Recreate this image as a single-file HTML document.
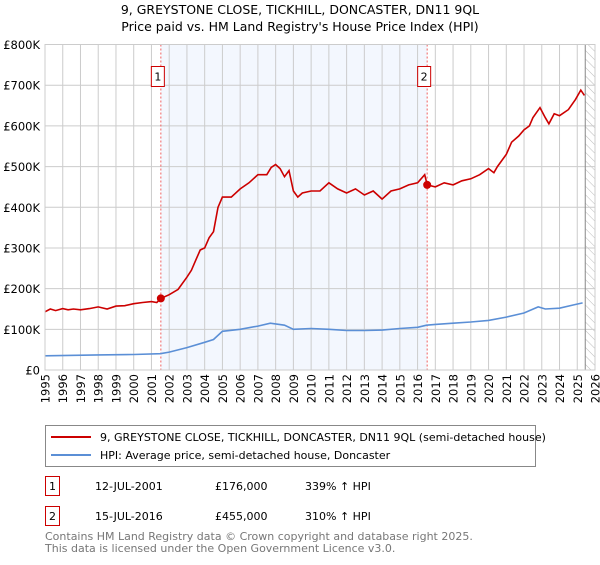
<!DOCTYPE html>
<html><head><meta charset="utf-8"><style>
body{margin:0;background:#fff;font-family:"Liberation Sans","DejaVu Sans",sans-serif;}
svg text{font-family:"DejaVu Sans","Liberation Sans",sans-serif;}
</style></head><body>
<svg id="c" width="600" height="560" xmlns="http://www.w3.org/2000/svg">
<text x="300" y="14" text-anchor="middle" font-size="12.5" fill="#000">9, GREYSTONE CLOSE, TICKHILL, DONCASTER, DN11 9QL</text>
<text x="300" y="31" text-anchor="middle" font-size="12.5" fill="#000">Price paid vs. HM Land Registry's House Price Index (HPI)</text>
<g id="plot"></g>
<g>
<rect x="45.5" y="425.5" width="490" height="41" fill="#fff" stroke="#888"/>
<line x1="51" y1="437" x2="91" y2="437" stroke="#cc0000" stroke-width="2"/>
<text x="100" y="441" font-size="11">9, GREYSTONE CLOSE, TICKHILL, DONCASTER, DN11 9QL (semi-detached house)</text>
<line x1="51" y1="455" x2="91" y2="455" stroke="#5b8fd6" stroke-width="2"/>
<text x="100" y="459" font-size="11">HPI: Average price, semi-detached house, Doncaster</text>
</g>
<g>
<rect x="45.5" y="476.5" width="14" height="19" fill="#fff" stroke="#cc0000"/>
<text x="52.5" y="490" text-anchor="middle" font-size="11">1</text>
<text x="95" y="490" font-size="11">12-JUL-2001</text>
<text x="215" y="490" font-size="11">£176,000</text>
<text x="305" y="490" font-size="11">339% ↑ HPI</text>
</g>
<g>
<rect x="45.5" y="506.5" width="14" height="19" fill="#fff" stroke="#cc0000"/>
<text x="52.5" y="520" text-anchor="middle" font-size="11">2</text>
<text x="95" y="520" font-size="11">15-JUL-2016</text>
<text x="215" y="520" font-size="11">£455,000</text>
<text x="305" y="520" font-size="11">310% ↑ HPI</text>
</g>
<text x="45" y="540" font-size="11" fill="#777">Contains HM Land Registry data © Crown copyright and database right 2025.</text>
<text x="45" y="552" font-size="11" fill="#777">This data is licensed under the Open Government Licence v3.0.</text>
</svg>
<script>
const yTicks=[0,100,200,300,400,500,600,700,800];
const yLabels=["£0","£100K","£200K","£300K","£400K","£500K","£600K","£700K","£800K"];
const years=[1995,1996,1997,1998,1999,2000,2001,2002,2003,2004,2005,2006,2007,2008,2009,2010,2011,2012,2013,2014,2015,2016,2017,2018,2019,2020,2021,2022,2023,2024,2025,2026];
const redT=[1995,1995.3,1995.6,1996,1996.3,1996.6,1997,1997.5,1998,1998.5,1999,1999.5,2000,2000.5,2001,2001.3,2001.53,2002,2002.5,2003,2003.25,2003.5,2003.75,2004,2004.25,2004.5,2004.75,2005,2005.5,2006,2006.5,2007,2007.5,2007.75,2008,2008.25,2008.5,2008.75,2009,2009.25,2009.5,2010,2010.5,2011,2011.5,2012,2012.5,2013,2013.5,2014,2014.5,2015,2015.5,2016,2016.4,2016.54,2017,2017.5,2018,2018.5,2019,2019.5,2020,2020.3,2020.5,2021,2021.3,2021.7,2022,2022.3,2022.5,2022.9,2023.2,2023.4,2023.7,2024,2024.5,2024.9,2025.2,2025.4];
const redV=[143,150,146,151,148,150,148,151,155,150,157,158,163,166,168,166,176,185,198,228,245,270,295,300,325,340,400,425,425,445,460,480,480,498,505,495,475,490,440,425,435,440,440,460,445,435,445,430,440,420,440,445,455,460,480,455,450,460,455,465,470,480,495,485,500,530,560,575,590,600,620,645,620,605,630,625,640,665,688,675];
const blueT=[1995,1998,2000,2001.5,2002,2003,2004,2004.5,2005,2006,2007,2007.7,2008.5,2009,2010,2011,2012,2013,2014,2015,2016,2016.5,2017,2018,2019,2020,2021,2022,2022.8,2023.2,2024,2024.8,2025.3];
const blueV=[35,37,38,40,44,55,68,75,95,100,108,115,110,100,102,100,97,97,98,102,105,110,112,115,118,122,130,140,155,150,152,160,165];
const sales=[{t:2001.53,v:176,n:"1"},{t:2016.54,v:455,n:"2"}];
const X0=45,X1=595,Y0=370,Y1=44.5;
const x=t=>X0+(t-1995)/31*(X1-X0);
const y=v=>Y0-v/800*(Y0-Y1);
const NS="http://www.w3.org/2000/svg";
const g=document.getElementById('plot');
function el(tag,a,p){const e=document.createElementNS(NS,tag);for(const k in a)e.setAttribute(k,a[k]);(p||g).appendChild(e);return e;}
let s=el('rect',{x:x(sales[0].t),y:Y1,width:x(sales[1].t)-x(sales[0].t),height:Y0-Y1,fill:'#eef3fd',opacity:0.7});


const defs=el('defs',{});
const pat=el('pattern',{id:'h',width:6,height:6,patternUnits:'userSpaceOnUse',patternTransform:'rotate(-45)'},defs);
el('line',{x1:0,y1:0,x2:0,y2:6,stroke:'#bbb','stroke-width':1},pat);
const hx=x(2025.45);
let hr=el('rect',{x:hx,y:Y1,width:X1-hx,height:Y0-Y1,fill:'url(#h)'});


years.forEach(yr=>{
 let l=el('line',{x1:x(yr),x2:x(yr),y1:Y1,y2:Y0,stroke:'#ccc','stroke-width':1});
 
 
 let t=el('text',{x:0,y:0,transform:`translate(${x(yr)+4.5},374) rotate(-90)`,'text-anchor':'end','font-size':11.5});
 t.textContent=yr;
 
 
});
yTicks.forEach((v,i)=>{
 let l=el('line',{x1:X0,x2:X1,y1:y(v),y2:y(v),stroke:'#ccc','stroke-width':1});
 
 
 let t=el('text',{x:40,y:y(v)+4.5,'text-anchor':'end','font-size':11.5});
 t.textContent=yLabels[i];
 
 
});
el('line',{x1:hx,x2:hx,y1:Y1,y2:Y0,stroke:'#888','stroke-width':1});
sales.forEach(sl=>{
 let l=el('line',{x1:x(sl.t),x2:x(sl.t),y1:Y1,y2:Y0,stroke:'#f06060','stroke-width':1,'stroke-dasharray':'2,2'});
 
 
 let r=el('rect',{x:x(sl.t)-9.5,y:66.5,width:13,height:20,fill:'#fff',stroke:'#cc0000'});
 
 
 let t=el('text',{x:x(sl.t)-3,y:80.5,'text-anchor':'middle','font-size':11});
 t.textContent=sl.n;
 
 
});
const pts=(T,V)=>T.map((t,i)=>x(t).toFixed(1)+','+y(V[i]).toFixed(1)).join(' ');
let b=el('polyline',{points:pts(blueT,blueV),fill:'none',stroke:'#5b8fd6','stroke-width':1.6});


let r=el('polyline',{points:pts(redT,redV),fill:'none',stroke:'#cc0000','stroke-width':1.6});


sales.forEach(sl=>{
 let c=el('circle',{cx:x(sl.t),cy:y(sl.v),r:4,fill:'#cc0000'});
 
 
});
let fr=el('rect',{x:X0,y:Y1,width:X1-X0,height:Y0-Y1,fill:'none',stroke:'#ccc'});


</script>
</body></html>
